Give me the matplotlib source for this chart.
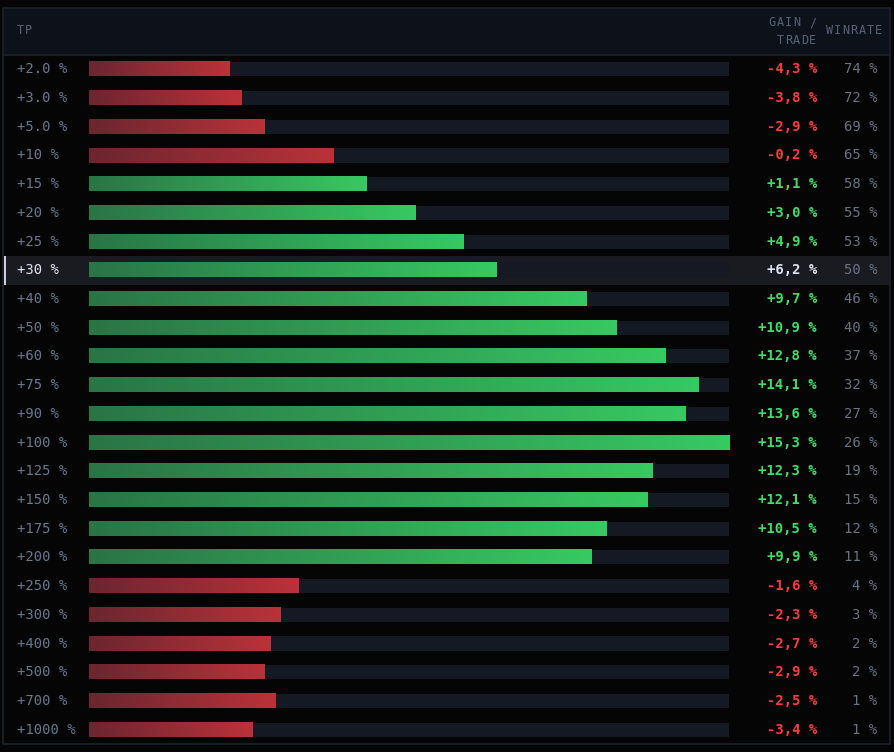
import matplotlib
matplotlib.use("Agg")
import matplotlib.pyplot as plt
import matplotlib.transforms as mtransforms
from matplotlib.patches import Rectangle
from matplotlib.colors import LinearSegmentedColormap
import numpy as np

tp_labels = ["+2.0 %", "+3.0 %", "+5.0 %", "+10 %", "+15 %", "+20 %", "+25 %", "+30 %",
             "+40 %", "+50 %", "+60 %", "+75 %", "+90 %", "+100 %", "+125 %", "+150 %",
             "+175 %", "+200 %", "+250 %", "+300 %", "+400 %", "+500 %", "+700 %", "+1000 %"]
gain = [-4.3, -3.8, -2.9, -0.2, 1.1, 3.0, 4.9, 6.2, 9.7, 10.9, 12.8, 14.1, 13.6, 15.3,
        12.3, 12.1, 10.5, 9.9, -1.6, -2.3, -2.7, -2.9, -2.5, -3.4]
winrate = [74, 72, 69, 65, 58, 55, 53, 50, 46, 40, 37, 32, 27, 26, 19, 15, 12, 11,
           4, 3, 2, 2, 1, 1]
highlight = "+30 %"
scale_min = -9.8

FONT = "DejaVu Sans Mono"
W, H = 894, 752
fig = plt.figure(figsize=(W / 100, H / 100), dpi=100)
fig.patch.set_facecolor("#050505")

bg = fig.add_axes([0, 0, 1, 1])
bg.set_xlim(0, W)
bg.set_ylim(H, 0)
bg.axis("off")

# panel
bg.add_patch(Rectangle((3, 8), 887, 736, facecolor="#050505", edgecolor="#1c212c", lw=1.2))
bg.add_patch(Rectangle((3.6, 8.6), 885.8, 46, facecolor="#0d111a", edgecolor="none"))
bg.plot([3, 890], [54.5, 54.5], color="#1c212c", lw=1.2)

n = len(gain)
ax = fig.add_axes([89 / W, (H - 744) / H, 640 / W, 689 / H])
ax.set_facecolor("none")
ax.axis("off")

hi = max(gain)
trans = mtransforms.blended_transform_factory(bg.transData, ax.transData)

# highlight row
hidx = tp_labels.index(highlight)
ax.add_patch(Rectangle((3.6, hidx - 0.5), 885.8, 1.0, transform=trans,
                       facecolor="#1a1b21", edgecolor="none", clip_on=False, zorder=0))
ax.add_patch(Rectangle((3.6, hidx - 0.5), 2.4, 1.0, transform=trans,
                       facecolor="#c9d1e0", edgecolor="none", clip_on=False, zorder=1))

bh = 0.49
ypos = np.arange(n)
ax.barh(ypos, [hi - scale_min] * n, left=scale_min, height=bh, color="#151924", zorder=2)

red_cmap = LinearSegmentedColormap.from_list("r", ["#6a2630", "#bb3239"])
green_cmap = LinearSegmentedColormap.from_list("g", ["#2a7446", "#37c962"])
grad = np.linspace(0, 1, 256).reshape(1, -1)
for i, g in enumerate(gain):
    cmap = green_cmap if g > 0 else red_cmap
    ax.imshow(grad, cmap=cmap, aspect="auto", interpolation="bicubic",
              extent=(scale_min, g, i + bh / 2, i - bh / 2), zorder=3)

ax.set_xlim(scale_min, hi)
ax.set_ylim(n - 0.5, -0.5)

# row texts
for i in range(n):
    is_h = tp_labels[i] == highlight
    ax.text(17, i, tp_labels[i], transform=trans, ha="left", va="center",
            fontsize=10, family=FONT, color="#dfe7f6" if is_h else "#687890")
    g = gain[i]
    gtxt = ("+" if g > 0 else "-") + f"{abs(g):.1f}".replace(".", ",") + " %"
    gcol = "#dde5f5" if is_h else ("#3fde67" if g > 0 else "#ff3a3a")
    ax.text(817, i, gtxt, transform=trans, ha="right", va="center",
            fontsize=10, family=FONT, fontweight="bold", color=gcol)
    ax.text(877, i, f"{winrate[i]} %", transform=trans, ha="right", va="center",
            fontsize=10, family=FONT, color="#687282")

# header with letter spacing
def spaced(text, x, y, align="left", step=8.2):
    total = step * len(text)
    x0 = x if align == "left" else x - total
    for k, ch in enumerate(text):
        bg.text(x0 + k * step + step / 2, y, ch, ha="center", va="center",
                fontsize=8.5, family=FONT, color="#566278")

spaced("TP", 16, 31)
spaced("GAIN /", 817, 23, align="right")
spaced("TRADE", 817, 40, align="right")
spaced("WINRATE", 825, 31)

fig.savefig("out.png", dpi=100, facecolor=fig.get_facecolor())
